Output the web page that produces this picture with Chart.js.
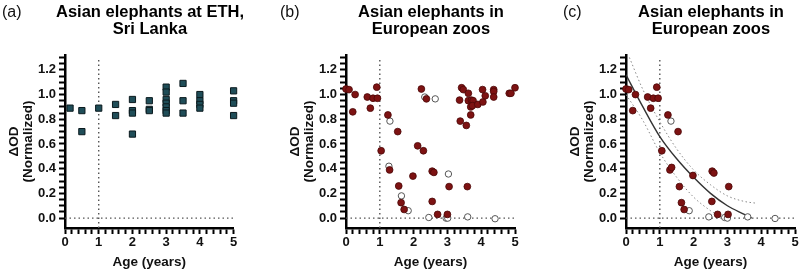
<!DOCTYPE html>
<html>
<head>
<meta charset="utf-8">
<script src="https://cdn.jsdelivr.net/npm/chart.js@4"></script>
<style>
  body { margin: 0; width: 800px; height: 274px; background: #fff; position: relative; overflow: hidden;
         font-family: "Liberation Sans", Arial, sans-serif; }
  .panel { position: absolute; top: 0; width: 239px; height: 274px; }
  .tag { position: absolute; top: 3px; font-size: 16px; color: #111; }
  .title { position: absolute; top: 3px; width: 240px; text-align: center; font-weight: bold;
           font-size: 16.5px; line-height: 17px; color: #000; }
</style>
</head>
<body>
<div class="panel" style="left:0px"><canvas id="chartA"></canvas></div>
<div class="panel" style="left:281px"><canvas id="chartB"></canvas></div>
<div class="panel" style="left:561px"><canvas id="chartC"></canvas></div>
<div class="tag" style="left:2px">(a)</div>
<div class="tag" style="left:280px">(b)</div>
<div class="tag" style="left:563px">(c)</div>
<div class="title" style="left:30px">Asian elephants at ETH,<br>Sri Lanka</div>
<div class="title" style="left:311px">Asian elephants in<br>European zoos</div>
<div class="title" style="left:591px">Asian elephants in<br>European zoos</div>
<script>
// axis ticks (labelled ones)
const ageTicks = [0, 1, 2, 3, 4, 5];
const odTicks = [0.0, 0.2, 0.4, 0.6, 0.8, 1.0, 1.2];
const ageMinorStep = 0.2;
const odMinorStep = 0.05;

// (a) Asian elephants at ETH, Sri Lanka
const ethAge = [0.15, 0.5, 0.5, 1, 1.5, 1.5, 2, 2, 2, 2, 2.5, 2.5, 2.5,
  3, 3, 3, 3, 3, 3, 3, 3.5, 3.5, 3.5, 4, 4, 4, 4, 5, 5, 5, 5];
const ethOD = [0.89, 0.87, 0.70, 0.89, 0.92, 0.83, 0.96, 0.87, 0.85, 0.68, 0.95, 0.88, 0.87,
  1.06, 1.02, 0.96, 0.93, 0.90, 0.87, 0.85, 1.09, 0.95, 0.85, 1.00, 0.95, 0.92, 0.89, 1.03, 0.95, 0.93, 0.83];

// (b) Asian elephants in European zoos - filled / open symbols
const zooAge = [0.0, 0.09, 0.2, 0.27, 0.63, 0.72, 0.8, 0.91, 0.93, 1.04, 1.24, 1.29, 1.53, 1.56, 1.63, 1.72,
  1.98, 2.12, 2.23, 2.29, 2.38, 2.55, 2.6, 2.55, 2.71, 3.0, 3.05, 3.36, 3.38, 3.42, 3.47, 3.56, 3.59,
  3.62, 3.62, 3.69, 3.69, 3.71, 3.76, 3.74, 3.9, 4.04, 4.05, 4.12, 4.37, 4.37, 4.37, 4.83, 4.88, 5.0];
const zooOD = [1.045, 1.04, 0.86, 1.0, 0.98, 0.89, 0.97, 1.06, 0.97, 0.545, 0.835, 0.39, 0.70, 0.26, 0.125, 0.07,
  0.34, 0.585, 1.045, 0.545, 0.965, 0.38, 0.37, 0.135, 0.03, 0.03, 0.255, 0.955, 0.785, 1.055, 1.04, 0.75, 0.255,
  1.01, 0.95, 0.835, 0.90, 0.955, 0.95, 0.91, 0.92, 1.04, 0.94, 0.99, 1.04, 1.025, 0.98, 1.01, 1.01, 1.055];
const zooAgeOpen = [1.3, 1.27, 1.64, 1.84, 2.33, 2.64, 3.03, 2.45, 2.96, 3.01, 3.6, 4.41];
const zooODOpen = [0.785, 0.42, 0.18, 0.06, 0.98, 0.965, 0.357, 0.005, 0.0, 0.0, 0.01, -0.005];

// (c) subset with fitted curve and band
const fitAge = [0.0, 0.08, 0.2, 0.28, 0.64, 0.73, 0.81, 0.91, 0.95, 1.06, 1.24, 1.3, 1.35, 1.54, 1.58, 1.64,
  1.72, 1.98, 2.55, 2.6, 2.54, 2.71, 3.02, 3.04];
const fitOD = [1.045, 1.04, 0.87, 1.0, 0.98, 0.89, 0.97, 1.06, 0.97, 0.545, 0.835, 0.39, 0.41, 0.70, 0.255, 0.125,
  0.07, 0.345, 0.38, 0.365, 0.135, 0.03, 0.03, 0.255];
const fitAgeOpen = [1.33, 1.87, 2.45, 2.92, 3.0, 3.6, 4.41];
const fitODOpen = [0.785, 0.06, 0.01, 0.005, 0.0, 0.01, -0.003];
const curveAge = [0, 0.5, 1, 1.5, 2, 2.5, 3, 3.5, 3.72];
const curveOD = [1.16, 0.9, 0.66, 0.48, 0.33, 0.2, 0.1, 0.03, 0.0];
const upperAge = [0.1, 0.5, 1, 1.5, 2, 2.5, 3, 3.5, 3.87];
const upperOD = [1.3, 1.04, 0.78, 0.56, 0.39, 0.27, 0.18, 0.135, 0.12];
const lowerAge = [0, 0.5, 1, 1.5, 2, 2.5, 2.85];
const lowerOD = [1.0, 0.79, 0.53, 0.33, 0.17, 0.06, 0.0];

const xMin = 0, xMax = 5, yMin = -0.08, yMax = 1.32, yTop = 1.3;
const cutoffAge = 1;

Chart.defaults.font.family = '"Liberation Sans", Arial, sans-serif';
Chart.defaults.color = '#111';

const pts = (xs, ys) => xs.map((x, i) => ({ x: x, y: ys[i] }));

function refLines() {
  const dotted = { showLine: true, pointRadius: 0, borderColor: '#555', borderWidth: 1.4, borderDash: [1.5, 3] };
  return [
    Object.assign({ data: [{ x: xMin, y: 0 }, { x: xMax, y: 0 }] }, dotted),
    Object.assign({ data: [{ x: cutoffAge, y: yMin }, { x: cutoffAge, y: yTop }] }, dotted)
  ];
}

function squares(xs, ys) {
  return { data: pts(xs, ys), pointStyle: 'rect', pointRadius: 4.4, backgroundColor: '#1f4d58',
    borderColor: '#0b1a1e', borderWidth: 1, clip: false };
}
function dots(xs, ys) {
  return { data: pts(xs, ys), pointStyle: 'circle', pointRadius: 3.4, backgroundColor: '#7d1212',
    borderColor: '#4a0808', borderWidth: 0.8, clip: false };
}
function rings(xs, ys) {
  return { data: pts(xs, ys), pointStyle: 'circle', pointRadius: 3.2, backgroundColor: '#fff',
    borderColor: '#555', borderWidth: 1, clip: false };
}

function makePanel(id, datasets) {
  new Chart(document.getElementById(id), {
    type: 'scatter',
    data: { datasets: datasets },
    options: {
      responsive: true,
      maintainAspectRatio: false,
      animation: false,
      layout: { padding: { left: 0, right: 5, top: 55, bottom: 0 } },
      plugins: {
        legend: { display: false },
        tooltip: { enabled: false }
      },
      scales: {
        x: {
          type: 'linear', min: xMin, max: xMax,
          afterFit: s => { s.height = 46; },
          afterBuildTicks: s => {
            s.ticks = [];
            for (let i = 0; i <= Math.round((xMax - xMin) / ageMinorStep); i++) s.ticks.push({ value: xMin + i * ageMinorStep });
          },
          border: { color: '#000', width: 2.5 },
          grid: { drawOnChartArea: false, tickLength: 6, tickColor: '#000', tickWidth: 2 },
          ticks: {
            autoSkip: false, maxRotation: 0, padding: 1,
            font: { size: 13, weight: 'bold' }, color: '#111',
            callback: v => {
              const t = ageTicks.find(a => Math.abs(a - v) < 1e-6);
              return t === undefined ? '' : String(t);
            }
          },
          title: { display: true, text: 'Age (years)', color: '#111',
            font: { size: 13.5, weight: 'bold' }, padding: { top: 0, bottom: 4 } }
        },
        y: {
          min: yMin, max: yMax,
          afterFit: s => { s.width = 65; },
          afterBuildTicks: s => {
            s.ticks = [];
            for (let i = 0; i <= Math.round(yTop / odMinorStep); i++) s.ticks.push({ value: i * odMinorStep });
          },
          border: { color: '#000', width: 2.5 },
          grid: { drawOnChartArea: false, tickLength: 6, tickColor: '#000', tickWidth: 2 },
          ticks: {
            autoSkip: false, padding: 3,
            font: { size: 13, weight: 'bold' }, color: '#111',
            callback: v => {
              const t = odTicks.find(a => Math.abs(a - v) < 1e-6);
              return t === undefined ? '' : t.toFixed(1);
            }
          },
          title: { display: true, text: ['ΔOD', '(Normalized)'], color: '#111',
            font: { size: 13.5, weight: 'bold', lineHeight: 1.05 }, padding: { top: 7, bottom: 0 } }
        }
      }
    }
  });
}

makePanel('chartA', [squares(ethAge, ethOD)].concat(refLines()));

makePanel('chartB', [dots(zooAge, zooOD), rings(zooAgeOpen, zooODOpen)].concat(refLines()));

makePanel('chartC',
  [dots(fitAge, fitOD), rings(fitAgeOpen, fitODOpen),
   { data: pts(curveAge, curveOD), showLine: true, pointRadius: 0, borderColor: '#333', borderWidth: 1.4,
     tension: 0.4, cubicInterpolationMode: 'monotone' },
   { data: pts(upperAge, upperOD), showLine: true, pointRadius: 0, borderColor: '#888', borderWidth: 1,
     borderDash: [1.5, 2.5], cubicInterpolationMode: 'monotone' },
   { data: pts(lowerAge, lowerOD), showLine: true, pointRadius: 0, borderColor: '#888', borderWidth: 1,
     borderDash: [1.5, 2.5], cubicInterpolationMode: 'monotone' }
  ].concat(refLines()));
</script>
</body>
</html>
